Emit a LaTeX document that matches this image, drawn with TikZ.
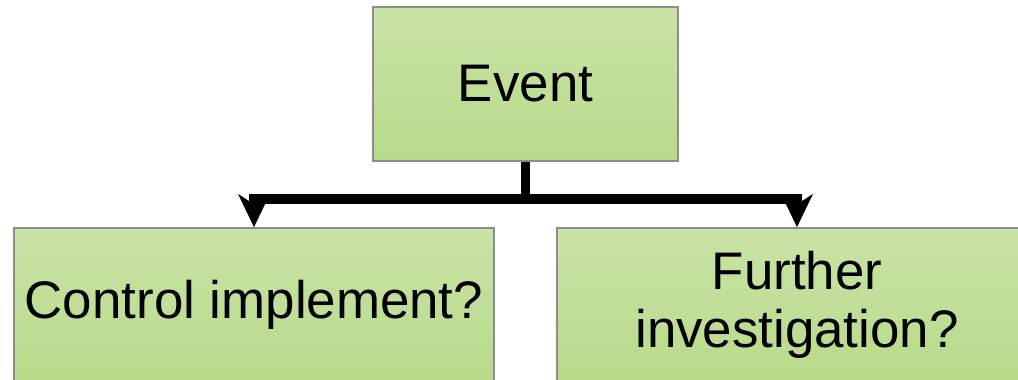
\documentclass[tikz,border=0pt]{standalone}
\usepackage{fontspec}
\setmainfont{Liberation Sans}
\usetikzlibrary{arrows.meta}

\definecolor{boxtop}{RGB}{201,227,166}
\definecolor{boxbottom}{RGB}{184,218,138}
\definecolor{boxline}{RGB}{140,140,140}

\begin{document}
\begin{tikzpicture}[x=0.025cm, y=0.025cm,
    stepbox/.style={draw=boxline, line width=0.04cm, top color=boxtop, bottom color=boxbottom,
      inner sep=0pt, minimum height=3.85cm, align=center,
      font=\fontsize{37.6pt}{41pt}\selectfont},
    branch/.style={line width=0.24cm, -{Stealth[length=0.82cm, width=0.78cm, inset=0.25cm]}}]
    % Fix the page to the size of the reference
    \useasboundingbox (0,0) rectangle (1018,380);
    % Draw the three boxes
    \node[stepbox, minimum width=7.625cm] (event) at (525.5,296) {Event};
    \node[stepbox, minimum width=12cm] (control) at (254,75) {Control implement?};
    \node[stepbox, minimum width=12cm] (further) at (797,75) {Further\\investigation?};
    % Split point under the top box
    \coordinate (split) at (525.5,181);
    % Draw the two branches
    \draw[line width=0.24cm] (event.south) -- (split);
    \draw[branch] (split) -| (control.north);
    \draw[branch] (split) -| (further.north);
\end{tikzpicture}
\end{document}
